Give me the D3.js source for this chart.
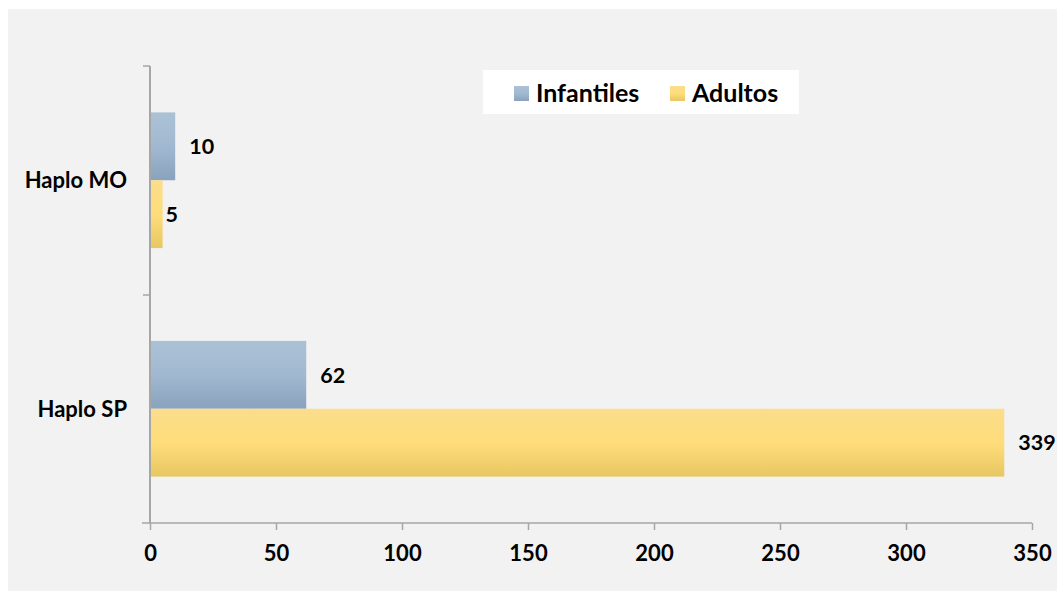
<!DOCTYPE html>
<html>
<head>
<meta charset="utf-8">
<script src="https://cdn.jsdelivr.net/npm/d3@7"></script>
<style>
html,body{margin:0;padding:0;background:#fff;}
text{font-family:Lato,"Open Sans",sans-serif;font-weight:bold;fill:#000;}
</style>
</head>
<body>
<svg id="chart" width="1057" height="591"></svg>
<script>
const categories = ["Haplo MO", "Haplo SP"];
const seriesNames = ["Infantiles", "Adultos"];
const infantiles = [10, 62];
const adultos = [5, 339];
const xTicks = [0, 50, 100, 150, 200, 250, 300, 350];

const svg = d3.select("#chart");
const defs = svg.append("defs");
const gBlue = defs.append("linearGradient").attr("id","gBlue").attr("x1",0).attr("y1",0).attr("x2",0).attr("y2",1);
gBlue.append("stop").attr("offset","0%").attr("stop-color","#abc1d6");
gBlue.append("stop").attr("offset","50%").attr("stop-color","#a1b9d0");
gBlue.append("stop").attr("offset","100%").attr("stop-color","#89a2bd");
const gYel = defs.append("linearGradient").attr("id","gYel").attr("x1",0).attr("y1",0).attr("x2",0).attr("y2",1);
gYel.append("stop").attr("offset","0%").attr("stop-color","#fbdd8c");
gYel.append("stop").attr("offset","50%").attr("stop-color","#fedd7a");
gYel.append("stop").attr("offset","100%").attr("stop-color","#e7c762");
const fills = ["url(#gBlue)", "url(#gYel)"];

// panel
svg.append("rect").attr("x",8).attr("y",9).attr("width",1049).attr("height",582).attr("fill","#f2f2f2");

const x = d3.scaleLinear().domain([0,350]).range([150,1032]);
const y = d3.scaleBand().domain(categories).range([66,523]).paddingInner(0.406).paddingOuter(0.203);
const ySub = d3.scaleBand().domain(seriesNames).range([0,y.bandwidth()]);

const data = categories.map((c,i)=>({cat:c, vals:[infantiles[i], adultos[i]]}));

// bars
data.forEach(d=>{
  d.vals.forEach((v,j)=>{
    svg.append("rect")
      .attr("x", x(0)).attr("y", y(d.cat)+ySub(seriesNames[j]))
      .attr("width", x(v)-x(0)).attr("height", ySub.bandwidth())
      .attr("fill", fills[j]);
    svg.append("text")
      .attr("x", x(v) + (v < 8 ? 3 : 14))
      .attr("y", y(d.cat)+ySub(seriesNames[j])+ySub.bandwidth()/2)
      .attr("dy","0.36em").attr("font-size",21.5).text(v);
  });
});

const axisColor = "#a6a6a6";
// x axis
const xa = svg.append("g").attr("transform","translate(0,523)")
  .call(d3.axisBottom(x).tickValues(xTicks).tickSize(7).tickPadding(15).tickSizeOuter(0));
xa.select(".domain").remove();
xa.append("line").attr("x1",142).attr("x2",1032).attr("y1",0).attr("y2",0).attr("stroke",axisColor).attr("stroke-width",1.5);
xa.selectAll(".tick line").attr("stroke",axisColor).attr("stroke-width",1.5);
xa.selectAll(".tick text").attr("font-size",22).attr("font-family","Lato,'Open Sans',sans-serif").attr("font-weight","bold").attr("fill","#000");

// y axis
const bounds = [66, 295, 523];
svg.append("line").attr("x1",150).attr("x2",150).attr("y1",66).attr("y2",523).attr("stroke",axisColor).attr("stroke-width",2);
bounds.slice(0,2).forEach(b=>{
  svg.append("line").attr("x1",143).attr("x2",150).attr("y1",b).attr("y2",b).attr("stroke",axisColor).attr("stroke-width",1.5);
});
categories.forEach(c=>{
  svg.append("text").attr("x",127).attr("y", y(c)+y.bandwidth()/2).attr("dy","0.36em")
    .attr("text-anchor","end").attr("font-size",22).text(c);
});

// legend
svg.append("rect").attr("x",483).attr("y",70).attr("width",316).attr("height",44).attr("fill","#fff");
const legX = [514, 670];
seriesNames.forEach((s,i)=>{
  svg.append("rect").attr("x",legX[i]).attr("y",86).attr("width",15).attr("height",15).attr("fill",fills[i]);
  svg.append("text").attr("x",legX[i]+22).attr("y",93).attr("dy","0.36em").attr("font-size",25).text(s);
});
</script>
</body>
</html>
